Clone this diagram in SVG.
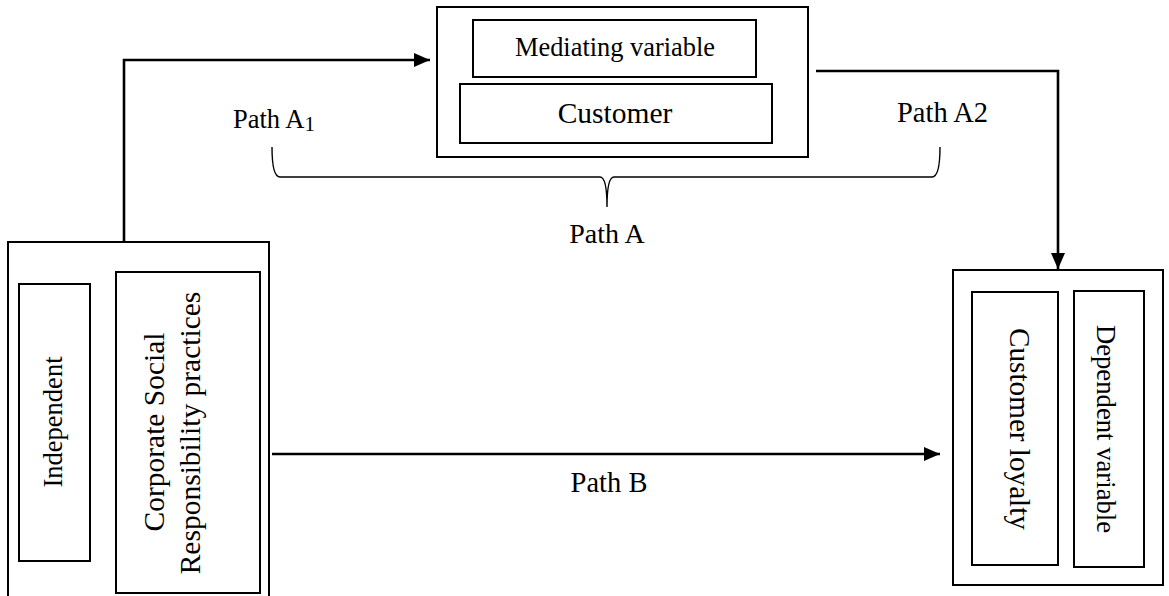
<svg xmlns="http://www.w3.org/2000/svg" width="1169" height="596" viewBox="0 0 1169 596">
  <style>
    .box { fill: none; stroke: #000; stroke-width: 2; }
    .wire { fill: none; stroke: #000; stroke-width: 2.6; }
    .brace { fill: none; stroke: #000; stroke-width: 1.4; }
    text { font-family: "Liberation Serif", "Times New Roman", serif; fill: #000; }
  </style>
  <defs>
    <marker id="arrow" markerUnits="userSpaceOnUse" markerWidth="18" markerHeight="16" refX="16" refY="7" orient="auto">
      <path d="M0,0 L16,7 L0,14 z" fill="#000"/>
    </marker>
  </defs>
  <rect width="1169" height="596" fill="#fff"/>

  <!-- Independent variable -->
  <g id="node-independent">
    <rect class="box" x="8" y="242" width="261" height="362"/>
    <rect class="box" x="19" y="284" width="71" height="277"/>
    <text font-size="26.5" text-anchor="middle" transform="translate(62,422) rotate(-90)">Independent</text>
    <rect class="box" x="116" y="272" width="144" height="321"/>
    <text font-size="29.5" text-anchor="middle" transform="translate(164,432) rotate(-90)">Corporate Social</text>
    <text font-size="29.5" text-anchor="middle" transform="translate(200,433) rotate(-90)">Responsibility practices</text>
  </g>

  <!-- Mediating variable -->
  <g id="node-mediator">
    <rect class="box" x="437" y="7" width="371" height="150"/>
    <rect class="box" x="473" y="20" width="283" height="57"/>
    <text x="615" y="56" font-size="26.4" text-anchor="middle">Mediating variable</text>
    <rect class="box" x="460" y="84" width="312" height="59"/>
    <text x="615" y="122.5" font-size="29.5" text-anchor="middle">Customer</text>
  </g>

  <!-- Dependent variable -->
  <g id="node-dependent">
    <rect class="box" x="953" y="270" width="210" height="315"/>
    <rect class="box" x="972" y="292" width="86" height="273"/>
    <text font-size="29.2" text-anchor="middle" transform="translate(1010,429) rotate(90)">Customer loyalty</text>
    <rect class="box" x="1074" y="291" width="70" height="276"/>
    <text font-size="26.7" text-anchor="middle" transform="translate(1097,429) rotate(90)">Dependent variable</text>
  </g>

  <!-- Connectors -->
  <g id="connectors">
    <polyline class="wire" points="124,242 124,60 430,60" marker-end="url(#arrow)"/>
    <polyline class="wire" points="816,71 1058,71 1058,269" marker-end="url(#arrow)"/>
    <line class="wire" x1="272" y1="454" x2="940" y2="454" marker-end="url(#arrow)"/>
    <path class="brace" d="M272,147 Q272,177 280,177 L600,177 Q607,177 607,207 Q607,177 614,177 L932,177 Q940,177 940,147"/>
  </g>

  <!-- Path labels -->
  <g id="labels">
    <text x="233" y="128" font-size="26.5">Path A<tspan font-size="21" dy="3">1</tspan></text>
    <text x="897" y="122" font-size="28.5">Path A2</text>
    <text x="607" y="243" font-size="28" text-anchor="middle">Path A</text>
    <text x="609" y="492" font-size="28.5" text-anchor="middle">Path B</text>
  </g>
</svg>
